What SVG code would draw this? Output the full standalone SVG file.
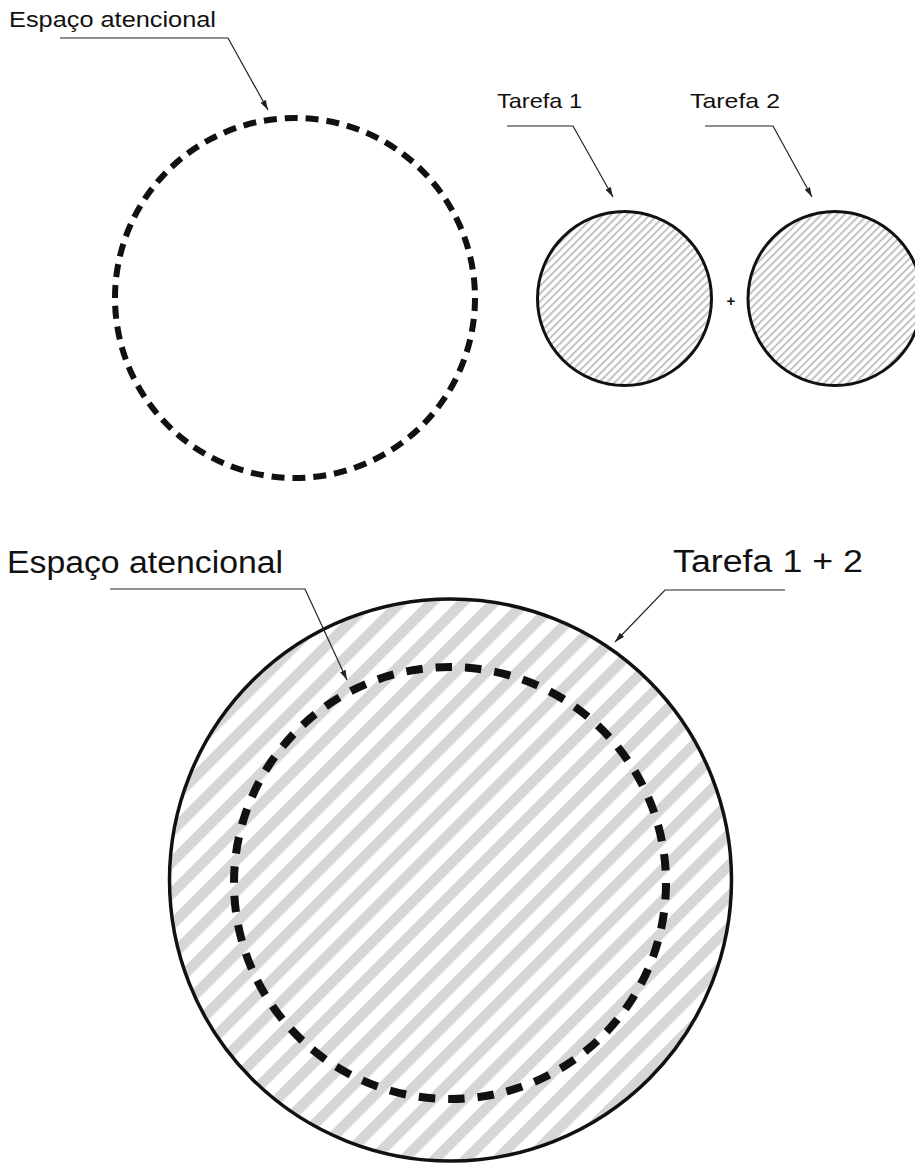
<svg xmlns="http://www.w3.org/2000/svg" width="915" height="1166" viewBox="0 0 915 1166">
<style>
.lbl{font-family:"Liberation Sans",Arial,sans-serif;fill:#111}
.lead{fill:none;stroke:#222;stroke-width:1.2}
</style>
<defs>
<pattern id="thin" patternUnits="userSpaceOnUse" width="5.5" height="10" patternTransform="rotate(45)">
<rect x="0" y="0" width="2" height="10" fill="#c2c2c2"/>
</pattern>
<pattern id="thick" patternUnits="userSpaceOnUse" width="22" height="22" patternTransform="rotate(45)">
<rect x="0" y="0" width="10.5" height="22" fill="#d6d6d6"/>
</pattern>
<marker id="arr" viewBox="0 0 10 6" refX="10" refY="3" markerWidth="10" markerHeight="6" markerUnits="userSpaceOnUse" orient="auto">
<path d="M0,0 L10,3 L0,6 Z" fill="#222"/>
</marker>
</defs>
<rect width="915" height="1166" fill="#fff"/>

<g id="espaco-top">
<circle cx="295" cy="298" r="180" fill="none" stroke="#111" stroke-width="6" stroke-dasharray="13 7.94"/>
<text class="lbl" x="9" y="27" font-size="22" textLength="207" lengthAdjust="spacingAndGlyphs">Espaço atencional</text>
</g>

<g id="tarefa1">
<circle cx="624.5" cy="298.5" r="87" fill="url(#thin)" stroke="#111" stroke-width="3"/>
<text class="lbl" x="497" y="108" font-size="21" textLength="85" lengthAdjust="spacingAndGlyphs">Tarefa 1</text>
</g>

<g id="plus">
<text class="lbl" x="731" y="306" font-size="15" font-weight="bold" text-anchor="middle">+</text>
</g>

<g id="tarefa2">
<circle cx="835" cy="298.5" r="87" fill="url(#thin)" stroke="#111" stroke-width="3"/>
<text class="lbl" x="690" y="108" font-size="21" textLength="90" lengthAdjust="spacingAndGlyphs">Tarefa 2</text>
</g>

<g id="tarefa12">
<circle cx="450.5" cy="880" r="281" fill="url(#thick)" stroke="#111" stroke-width="3.5"/>
<text class="lbl" x="673" y="572" font-size="31" textLength="190" lengthAdjust="spacingAndGlyphs">Tarefa 1 + 2</text>
</g>

<g id="espaco-bottom">
<circle cx="450" cy="883" r="216" fill="none" stroke="#111" stroke-width="8" stroke-dasharray="16.5 13"/>
<text class="lbl" x="7" y="573" font-size="31" textLength="276" lengthAdjust="spacingAndGlyphs">Espaço atencional</text>
</g>

<g id="connectors">
<polyline class="lead" points="60,38 228,38 268,110" marker-end="url(#arr)"/>
<polyline class="lead" points="507,126 573,126 613,197" marker-end="url(#arr)"/>
<polyline class="lead" points="705,126 773,126 812,197" marker-end="url(#arr)"/>
<polyline class="lead" points="110,589 305,589 347,680" marker-end="url(#arr)"/>
<polyline class="lead" points="785,590 665,590 615,642" marker-end="url(#arr)"/>
</g>
</svg>
